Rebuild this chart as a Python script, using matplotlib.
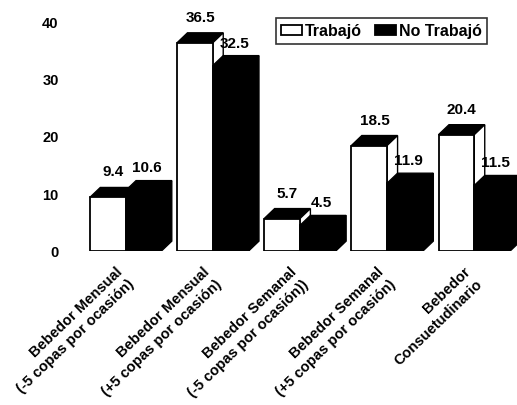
import numpy as np
import matplotlib
matplotlib.use("Agg")
import matplotlib.pyplot as plt
from matplotlib.patches import Polygon

categories = [
    "Bebedor Mensual\n(-5 copas por ocasión)",
    "Bebedor Mensual\n(+5 copas por ocasión)",
    "Bebedor Semanal\n(-5 copas por ocasión))",
    "Bebedor Semanal\n(+5 copas por ocasión)",
    "Bebedor\nConsuetudinario",
]
trabajo = [9.4, 36.5, 5.7, 18.5, 20.4]
no_trabajo = [10.6, 32.5, 4.5, 11.9, 11.5]
series_names = ["Trabajó", "No Trabajó"]

plt.rcParams["font.family"] = ["Liberation Sans", "DejaVu Sans"]
plt.rcParams["font.weight"] = "bold"

fig = plt.figure(figsize=(5.17, 4.05), dpi=100)
ax = fig.add_axes([0.135, 0.38, 0.865, 0.62])

x = np.arange(len(categories))
w = 0.41
dx, dy = 0.12, 1.75  # depth of the fake 3d faces


def add_faces(ax, x0, h, top_color, side_color):
    # top face
    ax.add_patch(Polygon([(x0, h), (x0 + dx, h + dy), (x0 + w + dx, h + dy), (x0 + w, h)],
                         closed=True, facecolor=top_color, edgecolor="black", lw=1, zorder=2))
    # right side face
    ax.add_patch(Polygon([(x0 + w, 0), (x0 + w + dx, dy), (x0 + w + dx, h + dy), (x0 + w, h)],
                         closed=True, facecolor=side_color, edgecolor="black", lw=1, zorder=2))


for xi, h in zip(x, trabajo):
    add_faces(ax, xi - w, h, "black", "white")
for xi, h in zip(x, no_trabajo):
    add_faces(ax, xi, h, "black", "black")

b1 = ax.bar(x - w / 2, trabajo, w, color="white", edgecolor="black", lw=1.3, zorder=3,
            label=series_names[0])
b2 = ax.bar(x + w / 2, no_trabajo, w, color="black", edgecolor="black", lw=1.3, zorder=3,
            label=series_names[1])

for xi, h in zip(x, trabajo):
    ax.text(xi - w / 2 + dx / 2, h + dy + 1.4, f"{h}", ha="center", va="bottom",
            fontsize=11, fontweight="bold", zorder=5, clip_on=False)
for xi, h in zip(x, no_trabajo):
    ax.text(xi + w / 2 + 0.04, h + dy + 0.9, f"{h}", ha="center", va="bottom",
            fontsize=11, fontweight="bold", zorder=5, clip_on=False)

ax.set_xlim(-0.64, 4.49)
ax.set_ylim(0, 44.0)
ax.set_yticks([0, 10, 20, 30, 40])
ax.set_yticklabels(["0", "10", "20", "30", "40"], fontsize=10.5, fontweight="bold")
ax.tick_params(axis="y", length=0, pad=8)
ax.tick_params(axis="x", length=0, pad=10)
ax.set_xticks(x - 0.12)
ax.set_xticklabels(categories, rotation=44, ha="right", va="top", rotation_mode="anchor",
                   multialignment="right", fontsize=10.5, fontweight="bold",
                   linespacing=1.3)
for s in ax.spines.values():
    s.set_visible(False)

leg = ax.legend(handles=[b1, b2], loc="upper left", bbox_to_anchor=(0.46, 0.928),
                ncol=2, frameon=True, fancybox=False, edgecolor="black", fontsize=11.5,
                handlelength=1.3, handleheight=0.6, handletextpad=0.2, columnspacing=0.8,
                borderpad=0.35, borderaxespad=0)
leg.get_frame().set_linewidth(1.2)
for t in leg.get_texts():
    t.set_fontweight("bold")

fig.savefig("out.png", dpi=100)
